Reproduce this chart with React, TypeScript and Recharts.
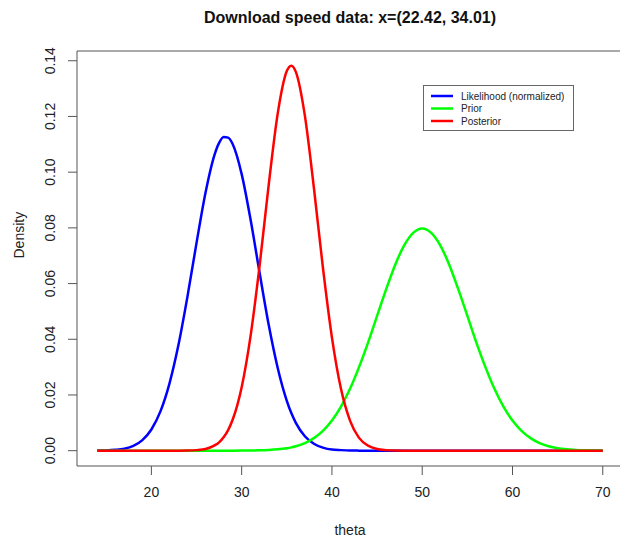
import React from 'react';
import { LineChart, Line, XAxis, YAxis, ReferenceArea } from 'recharts';

const theta = [
    14, 15, 16, 17, 18, 19, 20, 21, 22, 23, 24, 25, 26, 27, 27.5, 28, 28.5, 29, 30, 31, 32, 33, 34, 35, 35.5,
    36, 37, 38, 39, 40, 41, 42, 43, 44, 45, 46, 47, 48, 49, 50, 51, 52, 53, 54, 55, 56, 57, 58,
    59, 60, 61, 62, 63, 64, 65, 66, 67, 68, 69, 70,
];

const likelihood = [
    0.00003, 0.0001, 0.0003, 0.0007, 0.0017, 0.0038, 0.0076, 0.0141, 0.0241, 0.038, 0.0554, 0.0746,
    0.0927, 0.1063, 0.1105, 0.1126, 0.1124, 0.1101, 0.0993, 0.0827, 0.0636, 0.0451, 0.0296, 0.0179, 0.0135,
    0.01, 0.0052, 0.0025, 0.0011, 0.0004, 0.0002, 0.00006, 0.00002, 0, 0, 0, 0, 0, 0, 0, 0, 0, 0, 0,
    0, 0, 0, 0, 0, 0, 0, 0, 0, 0, 0, 0, 0, 0, 0, 0,
];

const prior = [
    0, 0, 0, 0, 0, 0, 0, 0, 0, 0, 0, 0, 0, 0, 0, 0, 0, 0.00001, 0.00003, 0.00006, 0.00012, 0.00025, 0.00048,
    0.00089, 0.00119,
    0.0016, 0.0027, 0.0045, 0.0071, 0.0108, 0.0158, 0.0222, 0.03, 0.0388, 0.0484, 0.0579, 0.0667,
    0.0737, 0.0782, 0.0798, 0.0782, 0.0737, 0.0667, 0.0579, 0.0484, 0.0388, 0.03, 0.0222,
    0.0158, 0.0108, 0.0071, 0.0045, 0.0027, 0.0016, 0.00089, 0.00048, 0.00025, 0.00012, 0.00006, 0.00003,
];

const posterior = [
    0, 0, 0, 0, 0, 0, 0, 0, 0, 0.00001, 0.00005, 0.0002, 0.0006, 0.0019, 0.003, 0.0048, 0.0074, 0.0111, 0.0228,
    0.0415, 0.0668, 0.0956, 0.1212, 0.1363, 0.1382,
    0.136, 0.1203, 0.0944, 0.0657, 0.0406, 0.0222, 0.0108, 0.0046, 0.0018, 0.0006, 0.0002, 0.00005,
    0.00001, 0, 0, 0, 0, 0, 0, 0, 0, 0, 0,
    0, 0, 0, 0, 0, 0, 0, 0, 0, 0, 0, 0,
];

const xTicks = [20, 30, 40, 50, 60, 70];
const yTicks = [0, 0.02, 0.04, 0.06, 0.08, 0.1, 0.12, 0.14];

const series = [
    { key: 'likelihood', label: 'Likelihood (normalized)', color: '#0000ff' },
    { key: 'prior', label: 'Prior', color: '#00ff00' },
    { key: 'posterior', label: 'Posterior', color: '#ff0000' },
];

const data = theta.map((t, i) => ({
    theta: t,
    likelihood: likelihood[i],
    prior: prior[i],
    posterior: posterior[i],
}));

const FONT = '"Liberation Sans", Arial, Helvetica, sans-serif';

const XTick = ({ x, y, payload }: any) => (
    <text x={x} y={y} dy={20} textAnchor="middle" fontSize={14} fontFamily={FONT} fill="#222">
        {payload.value}
    </text>
);

const YTick = ({ x, y, payload }: any) => {
    const cx = x - 16;
    return (
        <text
            x={cx}
            y={y}
            transform={`rotate(-90, ${cx}, ${y})`}
            textAnchor="middle"
            dominantBaseline="central"
            fontSize={14}
            fontFamily={FONT}
            fill="#222"
        >
            {payload.value.toFixed(2)}
        </text>
    );
};

// legend drawn as an overlay so it doesn't eat into the plot height
const LegendBox = () => (
    <svg width={152} height={47} style={{ position: 'absolute', left: 423, top: 85 }}>
        <rect x={0.5} y={0.5} width={150} height={45} fill="white" stroke="#666" />
        {series.map((s, i) => (
            <g key={s.key}>
                <line x1={8} x2={30} y1={11 + i * 12.5} y2={11 + i * 12.5} stroke={s.color} strokeWidth={2.5} />
                <text x={38} y={11 + i * 12.5} dominantBaseline="central" fontSize={10} fontFamily={FONT} fill="#222">
                    {s.label}
                </text>
            </g>
        ))}
    </svg>
);

export default function App() {
    return (
        <div style={{ position: 'absolute', left: 0, top: 0, width: 620, height: 537, overflow: 'hidden', background: 'white' }}>
            <svg width={620} height={40} style={{ position: 'absolute', left: 0, top: 0 }}>
                <text x={350} y={17} textAnchor="middle" dominantBaseline="central" fontSize={16} fontWeight="bold" fontFamily={FONT} fill="#111">
                    Download speed data: x=(22.42, 34.01)
                </text>
            </svg>
            <LineChart width={640} height={537} data={data} margin={{ top: 51, right: 17, left: 0, bottom: 0 }}>
                <XAxis
                    dataKey="theta"
                    type="number"
                    domain={[11.76, 72.24]}
                    ticks={xTicks}
                    allowDataOverflow
                    height={71}
                    axisLine={false}
                    tickSize={9}
                    tickLine={{ stroke: '#555' }}
                    tick={<XTick />}
                    label={{ value: 'theta', position: 'insideBottom', offset: 2, fontSize: 14, fontFamily: FONT, fill: '#222' }}
                />
                <YAxis
                    type="number"
                    domain={[-0.0055, 0.1435]}
                    ticks={yTicks}
                    allowDataOverflow
                    width={77}
                    axisLine={false}
                    tickSize={9}
                    tickLine={{ stroke: '#555' }}
                    tick={<YTick />}
                    label={{ value: 'Density', angle: -90, position: 'insideLeft', offset: 19, fontSize: 14, fontFamily: FONT, fill: '#222' }}
                />
                <ReferenceArea x1={11.76} x2={72.24} y1={-0.0055} y2={0.1435} fill="none" stroke="#555" strokeWidth={1} ifOverflow="visible" />
                {series.map(s => (
                    <Line
                        key={s.key}
                        type="monotone"
                        dataKey={s.key}
                        stroke={s.color}
                        strokeWidth={2.5}
                        dot={false}
                        activeDot={false}
                        isAnimationActive={false}
                    />
                ))}
            </LineChart>
            <LegendBox />
        </div>
    );
}
